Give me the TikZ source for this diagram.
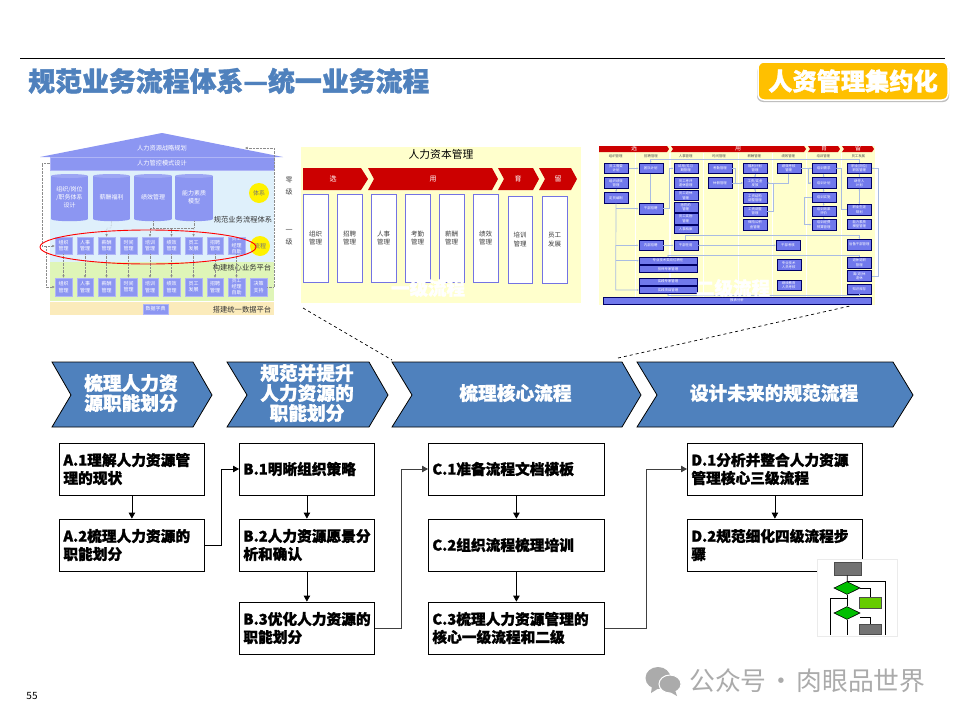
\documentclass[tikz,border=0pt]{standalone}
\usepackage{fontspec}
\setmainfont{Noto Sans CJK SC}[BoldFeatures={FakeBold=1.3}]
\usetikzlibrary{arrows.meta,shapes.geometric,calc}
\definecolor{hdblue}{HTML}{4F81BD}
\definecolor{amber}{HTML}{FFC000}
\definecolor{tbox}{HTML}{8C96F2}
\definecolor{tred}{HTML}{CC0000}
\definecolor{tyel}{HTML}{FFFFCC}
\definecolor{tblue}{HTML}{7078EC}
\definecolor{tline}{HTML}{A9BCE2}
\definecolor{tbg}{HTML}{DFF0FB}
\definecolor{tgr}{HTML}{DFF5B8}
\definecolor{tor}{HTML}{FBEBBB}
\definecolor{wm}{HTML}{ABABAB}
\tikzset{
 fs/.style={font=\fontsize{#1}{#1}\selectfont},
 stepbox/.style={draw=black,line width=.8pt,fill=white,align=left,anchor=west,text width=#1,inner sep=4pt,minimum height=52pt,font=\fontsize{14.7}{18}\selectfont\bfseries},
 flowarrow/.style={line width=.8pt,-{Triangle[length=6pt,width=6.5pt]}},
 chevtext/.style={text=white,align=center,font=\fontsize{18.7}{20}\selectfont\bfseries},
 roofbox/.style={fill=tbox,draw=tbox!70!white,line width=.5pt,text=white,inner sep=0pt,align=center,font=\fontsize{5}{6.2}\selectfont},
 dot/.style={draw=black!45,line width=.4pt,densely dotted},
 dota/.style={dot,-{Latex[length=2.5pt,width=2.5pt]}},
 tlink/.style={draw=tline,line width=.7pt,-{Latex[length=1.8pt,width=1.8pt]}},
 tb3/.style={fill=tblue,draw=black!60!blue,line width=.35pt,text=white,inner sep=0pt,align=center,font=\fontsize{3.4}{4.2}\selectfont},
 whitecap/.style={text=white,font=\fontsize{18.5}{20}\selectfont\bfseries},
}
\newcommand{\rb}[6]{\node[roofbox,minimum width={(#4-#2)*1pt},minimum height={(#5-#3)*1pt}] (#1) at ({(#2+#4)/2},{(#3+#5)/2}) {#6};}
\newcommand{\tb}[6]{\node[tb3,minimum width={(#4-#2)/3*1pt},minimum height={(#5-#3)/3*1pt}] (#1) at ({(#2+#4)/6+595},{(#3+#5)/6+140}) {#6};}
\newcommand{\cyl}[6]{\fill[tbox] (#2,#4) rectangle (#3,#5);
 \fill[tbox] ({(#2+#3)/2},#5) ellipse[x radius={(#3-#2)/2},y radius=2.2];
 \fill[tbox!85!white] ({(#2+#3)/2},#4) ellipse[x radius={(#3-#2)/2},y radius=2];
 \node[text=white,inner sep=0pt,minimum width={(#3-#2)*1pt},minimum height={(#5-#4+4)*1pt},align=center,font=\fontsize{6}{8}\selectfont] (#1) at ({(#2+#3)/2},{(#4+#5)/2}) {#6};}
\newcommand{\tchev}[6]{\fill[#1] (#2,#4) -- ({#3-#6},#4) -- (#3,{(#4+#5)/2}) -- ({#3-#6},#5) -- (#2,#5) -- ({#2+#6},{(#4+#5)/2}) -- cycle;}
\newcommand{\chevshape}[4]{\draw[fill=hdblue,draw=black,line width=.8pt] (#1,362) -- (#3,362) -- (#4,395) -- (#3,427) -- (#1,427) -- (#2,395) -- cycle;}
\begin{document}
\begin{tikzpicture}[x=1pt,y=-1pt]
\useasboundingbox (0,0) rectangle (960,720);
\fill[white] (0,0) rectangle (960,720);
% header
\draw[line width=1pt] (20,58) -- (945,58);
\node[anchor=west,inner sep=0pt,text=hdblue,font=\fontsize{26.9}{30}\selectfont\bfseries] (title) at (28,81) {规范业务流程体系—统一业务流程};
\fill[black!25,rounded corners=6pt] (757,66) rectangle (949,102);
\node[fill=amber,draw=white,line width=1.5pt,rounded corners=6pt,minimum width=190pt,minimum height=38pt,inner sep=0pt,text=white,font=\fontsize{24.2}{28}\selectfont\bfseries] (badge) at (853,81) {人资管理集约化};

% ===== thumbnail 1
\fill[tbg] (50,170) rectangle (274,262);
\fill[tgr] (50,262) rectangle (274,301);
\fill[tor] (50,302) rectangle (274,315);
\fill[tbox] (162,133) -- (283,157) -- (40,157) -- cycle;
\node[text=white,inner sep=0pt,fs=6.2] (roof) at (162,148) {人力资源战略规划};
\rb{bar}{50}{157}{274}{170}{\fontsize{6.2}{7}\selectfont 人力管控模式设计}
\cyl{cy1}{51}{88}{176}{219}{组织/岗位\\/职务体系\\设计}
\cyl{cy2}{93}{130}{176}{219}{薪酬福利}
\cyl{cy3}{134}{172}{176}{219}{绩效管理}
\cyl{cy4}{175}{213}{176}{219}{能力素质\\模型}
\fill[yellow] (259,193) circle (10);
\node[text=black!55,fs=6,inner sep=0pt] (circa) at (259,193) {体系};
\fill[yellow] (260,246) circle (10);
\node[text=black!55,fs=6,inner sep=0pt] (circb) at (260,246) {流程};
\node[fs=7.3,text=black!80,inner sep=0pt] (la) at (243,220) {规范业务流程体系};
\node[fs=7.3,text=black!80,inner sep=0pt] (lb) at (242,268) {构建核心业务平台};
\node[fs=7.3,text=black!80,inner sep=0pt] (lc) at (242,310) {搭建统一数据平台};
\rb{ra}{55}{237}{72}{254}{组织\\管理}
\rb{rb}{77}{237}{93}{254}{人事\\管理}
\rb{rc}{98}{237}{115}{254}{薪酬\\管理}
\rb{rd}{120}{237}{137}{254}{时间\\管理}
\rb{re}{142}{237}{158}{254}{培训\\管理}
\rb{rf}{163}{237}{180}{254}{绩效\\管理}
\rb{rg}{185}{237}{202}{254}{员工\\发展}
\rb{rh}{207}{237}{223}{254}{招聘\\管理}
\rb{ri}{228}{237}{245}{254}{\fontsize{4.6}{5.2}\selectfont 员工\\经理\\自助}
\rb{sa}{55}{278}{72}{296}{组织\\管理}
\rb{sb}{77}{278}{93}{296}{人事\\管理}
\rb{sc}{98}{278}{115}{296}{薪酬\\管理}
\rb{sd}{120}{278}{137}{296}{时间\\管理}
\rb{se}{142}{278}{158}{296}{培训\\管理}
\rb{sf}{163}{278}{180}{296}{绩效\\管理}
\rb{sg}{185}{278}{202}{296}{员工\\发展}
\rb{sh}{207}{278}{223}{296}{招聘\\管理}
\rb{si}{228}{278}{245}{296}{\fontsize{4.6}{5.2}\selectfont 员工\\经理\\自助}
\rb{sj}{250}{278}{267}{296}{决策\\支持}
\rb{dict}{143}{304}{168}{314}{数据字典}
\foreach \k in {a,b,c,d,e,f,g,h,i}{\draw[dota] (r\k) -- (s\k);}
\coordinate (ba) at (42,163); \coordinate (bb) at (42,246); \coordinate (bc) at (46,246); \coordinate (bd) at (46,287);
\draw[dota] (bar.west |- ba) -- (ba) -- (bb) -- (ra.west |- bb);
\draw[dota] (bc) -- (bd) -- (sa.west |- bd);
\coordinate (ta) at (274,287); \coordinate (tb) at (274,148); \coordinate (tc) at (245,148);
\draw[dota] (sj.east |- ta) -- (ta) -- (tb) -- (tc);
\coordinate (ma) at (111,228); \coordinate (mb) at (107,228);
\draw[dot] (cy2.south) -- (ma) -- (mb);
\draw[dota] (mb) -- (rc.north);
\coordinate (na) at (150,228); \coordinate (nb) at (194,228);
\draw[dot] (cy3.south) -- (cy3.south |- na);
\draw[dot] (cy4.south) -- (nb);
\draw[dot] (na) -- (nb);
\draw[dota] (na) -- (re.north);
\draw[dota] (rf.north |- na) -- (rf.north);
\draw[dota] (nb) -- (rg.north);
\draw[red,line width=.9pt] (148,247) ellipse[x radius=108,y radius=17];

% ===== thumbnail 2
\fill[tyel] (301,147) rectangle (581,303);
\node[fs=10.8,inner sep=0pt] (ttitle) at (441,154) {人力资本管理};
\fill[tred] (303,168) -- (361,168) -- (368,179) -- (361,190) -- (303,190) -- cycle;
\tchev{tred}{368}{498}{168}{190}{6}
\tchev{tred}{498}{539}{168}{190}{6}
\tchev{tred}{539}{577}{168}{190}{6}
\node[text=white,fs=7,inner sep=0pt] (tta) at (333,179) {选};
\node[text=white,fs=7,inner sep=0pt] (ttb) at (433,179) {用};
\node[text=white,fs=7,inner sep=0pt] (ttc) at (518,179) {育};
\node[text=white,fs=7,inner sep=0pt] (ttd) at (558,179) {留};
\foreach \n/\a/\b/\yy/\zz/\t/\u in {pa/303/328/194/282/组织/管理,pb/337/362/194/282/招聘/管理,pc/371/396/194/282/人事/管理,pd/405/430/194/282/考勤/管理,pe/439/464/194/282/薪酬/管理,pf/473/498/194/282/绩效/管理,pg/508/532/196/283/培训/管理,ph/542/567/196/283/员工/发展}{
 \node[draw=black!20!blue!55!white,line width=.8pt,fill=white,minimum width={(\b-\a)*1pt},minimum height={(\zz-\yy)*1pt},inner sep=0pt,align=center,font=\fontsize{6.5}{8.5}\selectfont,text=black!75] (\n) at ({(\a+\b)/2},{(\yy+\zz)/2}) {\t\\\u};}
\node[font=\fontsize{7}{12}\selectfont,text=black!70,inner sep=0pt,align=center] (za) at (289,186) {零\\级};
\node[font=\fontsize{7}{12}\selectfont,text=black!70,inner sep=0pt,align=center] (zb) at (289,237) {一\\级};
\node[whitecap,inner sep=0pt] (capa) at (428,288) {一级流程};

% ===== thumbnail 3
\fill[tyel] (599,146) rectangle (875,305);
\foreach \xa/\xb in {119/121,223/227,323/324,429/431,531/532,633/637,739/741}{\fill[white] ({\xa/3+595},153) rectangle ({\xb/3+595},303);}
\fill[tred] (599,146) -- (667,146) -- (669,149) -- (667,152) -- (599,152) -- cycle;
\tchev{tred}{671}{806}{146}{152}{2}
\tchev{tred}{808}{840}{146}{152}{2}
\tchev{tred}{842}{874}{146}{152}{2}
\node[text=white,fs=6,inner sep=0pt] (ua) at (634,148.5) {选};
\node[text=white,fs=6,inner sep=0pt] (ub) at (738,148.5) {用};
\node[text=white,fs=6,inner sep=0pt] (uc) at (824,148.5) {育};
\node[text=white,fs=6,inner sep=0pt] (ud) at (858,148.5) {留};
\foreach \xx/\t in {62/组织管理,168/招聘管理,272/人事管理,372/时间管理,478/薪酬管理,580/绩效管理,685/培训管理,790/员工发展}{
 \node[fs=3.4,text=black!70,inner sep=0pt] (col\xx) at ({\xx/3+595},156) {\t};}
\tb{a1}{26}{70}{100}{100}{员工需要\\计划}
\tb{a2}{26}{112}{100}{145}{组织绩效\\管理}
\tb{a3}{26}{157}{100}{190}{定员编制}
\tb{b1}{131}{70}{203}{100}{团队计划}
\tb{b2}{131}{190}{203}{222}{干部招聘}
\tb{b3}{131}{300}{203}{332}{内部招聘}
\tb{b4}{132}{352}{306}{372}{专业技术类岗位聘任}
\tb{b5}{132}{377}{306}{398}{技师专家管理}
\tb{b6}{132}{415}{306}{435}{实践专家管理}
\tb{b7}{132}{440}{306}{460}{实践项目管理}
\tb{c1}{236}{70}{308}{100}{试用/见习\\期管理}
\tb{c2}{236}{113}{308}{145}{员工考评\\退休管理}
\tb{c3}{236}{152}{308}{182}{员工退休\\管理}
\tb{c4}{236}{187}{308}{217}{惩罚的\\管理}
\tb{c5}{236}{220}{308}{252}{员工奖励\\管理}
\tb{c6}{236}{257}{308}{280}{人事档案}
\tb{c7}{236}{300}{308}{332}{干部任用}
\tb{d1}{339}{70}{411}{100}{考勤管理}
\tb{d2}{339}{113}{411}{145}{休假管理}
\tb{e1}{444}{70}{516}{100}{福利计划\\管理}
\tb{e2}{444}{113}{516}{145}{工资/奖金\\发放}
\tb{e3}{444}{158}{516}{190}{工资结构\\调整管理}
\tb{e4}{444}{198}{516}{230}{工资调整\\管理}
\tb{e5}{444}{238}{516}{270}{保险公积\\金管理}
\tb{f1}{545}{70}{617}{100}{绩效考核\\管理}
\tb{f2}{543}{300}{615}{332}{干部考核}
\tb{f3}{545}{358}{617}{392}{专业技术\\人员考核}
\tb{f4}{545}{420}{617}{452}{继续教育\\人员考核}
\tb{g1}{650}{70}{722}{100}{培训需求}
\tb{g2}{650}{113}{722}{145}{培训计划}
\tb{g3}{650}{157}{722}{187}{培训实施}
\tb{g4}{650}{198}{722}{230}{培训效果\\评价}
\tb{g5}{650}{238}{722}{270}{培训经费\\预算管理}
\tb{h1}{757}{70}{829}{100}{职业(岗位)\\职务管理}
\tb{h2}{757}{113}{829}{145}{继任人\\计划}
\tb{h3}{757}{193}{829}{225}{职业生涯\\规划}
\tb{h4}{757}{238}{829}{268}{能力素质\\模型管理}
\tb{h5}{757}{298}{829}{330}{后备干部管理}
\tb{h6}{757}{352}{829}{384}{退休退职\\管理}
\tb{h7}{757}{392}{829}{425}{离(退)休\\退休}
\tb{h8}{757}{432}{829}{462}{知识库存}
\tb{rep}{24}{472}{828}{492}{报表分析}
\coordinate (vb) at ({62/3+595},{450/3+140});
\draw[tlink] (a1) -- (b1);
\draw[tlink] (a2) -- (a3);
\draw[tlink] (b1) -- (b2);
\draw[tlink] (a3.south) -- (vb) -- (b7.west |- vb);
\draw[tlink] (a3.south |- b2) -- (b2.west);
\draw[tlink] (a3.south |- b3) -- (b3.west);
\draw[tlink] (a3.south |- b4) -- (b4.west);
\draw[tlink] (b2.east) -- ++(6,0) |- (c1.west);
\draw[tlink] (b3) -- (c7);
\draw[tlink,{Latex[length=1.8pt,width=1.8pt]}-{Latex[length=1.8pt,width=1.8pt]}] (c7) -- (f2);
\draw[tlink] (c7.north) -- ++(0,-4) -| (h5.north);
\draw[tlink] (d2) -- (e2);
\draw[tlink] (d1.east) -- ++(3,0) |- (e2.west);
\draw[tlink] (e1) -- (e2);
\draw[tlink] (e3) -- (e2);
\draw[tlink] (f1.south) |- (e2.east);
\draw[tlink] (e4.east) -- ++(6,0) |- (e2.east);
\draw[tlink] (f1) -- (g1);
\draw[tlink] (g1) -- (g2);
\draw[tlink] (g2) -- (g3);
\draw[tlink] (g3) -- (g4);
\draw[tlink] (g5) -- (g4);
\draw[tlink] (g1.west) -- ++(-3,0) |- (g2.west);
\draw[tlink] (g3.west) -- ++(-7,0) |- (g5.west);
\draw[tlink] (h1.north) -- ++(0,-3.5) -| (b1.north);
\draw[tlink] (h2) -- (h1);
\draw[tlink] (h3) -- (h2);
\draw[tlink] (h2) -- (h3);
\draw[tlink] (h3.west) -- ++(-5.5,0) |- (g1.east);
\draw[tlink] (h6.north) -- ++(0,-2.3) -| (b4.north);
\draw[tlink] (h7.east) -- ++(7,0) |- (h1.east);
\draw[tlink] (h8.south) -- ++(0,1) -| (b7.south);
\node[whitecap,inner sep=0pt] (capb) at (733,288) {二级流程};

% dashed guides
\coordinate (gaa) at (303,308); \coordinate (gab) at (392,360);
\coordinate (gba) at (618,358); \coordinate (gbb) at (850,306);
\draw[dashed,line width=.7pt] (gaa) -- (gab);
\draw[dashed,line width=.7pt] (gba) -- (gbb);

% chevrons
\chevshape{52}{71}{193}{212}
\chevshape{227}{247}{369}{388}
\chevshape{392}{412}{622}{641}
\chevshape{637}{657}{893}{913}
\node[chevtext,inner sep=0pt] (hta) at (131,393) {梳理人力资\\源职能划分};
\node[chevtext,inner sep=0pt] (htb) at (307,393) {规范并提升\\人力资源的\\职能划分};
\node[chevtext,inner sep=0pt] (htc) at (515.5,393) {梳理核心流程};
\node[chevtext,inner sep=0pt] (htd) at (774,393) {设计未来的规范流程};

% step boxes
\node[stepbox=137pt] (A1) at (59,469) {A.1理解人力资源管\\理的现状};
\node[stepbox=137pt] (A2) at (59,545) {A.2梳理人力资源的\\职能划分};
\node[stepbox=127pt] (B1) at (239,469) {B.1明晰组织策略};
\node[stepbox=127pt] (B2) at (239,545) {B.2人力资源愿景分\\析和确认};
\node[stepbox=127pt] (B3) at (239,628) {B.3优化人力资源的\\职能划分};
\node[stepbox=168pt] (C1) at (428,469) {C.1准备流程文档模板};
\node[stepbox=168pt] (C2) at (428,545) {C.2组织流程梳理培训};
\node[stepbox=168pt] (C3) at (428,628) {C.3梳理人力资源管理的\\核心一级流程和二级};
\node[stepbox=167pt] (D1) at (687,469) {D.1分析并整合人力资源\\管理核心三级流程};
\node[stepbox=167pt] (D2) at (687,545) {D.2规范细化四级流程步\\骤};
\draw[flowarrow] (A1) -- (A2);
\draw[flowarrow] (B1) -- (B2);
\draw[flowarrow] (B2) -- (B3);
\draw[flowarrow] (C1) -- (C2);
\draw[flowarrow] (C2) -- (C3);
\draw[flowarrow] (D1) -- (D2);
\coordinate (ja) at (221,545); \coordinate (jb) at (401,628); \coordinate (jc) at (646,628);
\draw[flowarrow] (A2.east) -- (ja) |- (B1.west);
\draw[flowarrow,draw=black!75] (B3.east) -- (jb) |- (C1.west);
\draw[flowarrow,draw=black!75] (C3.east) -- (jc) |- (D1.west);

% flowchart picture
\fill[white] (817,559) rectangle (897,636);
\draw[black!8,line width=.5pt] (817,559) rectangle (897,636);
\coordinate (fp) at (885,581); \coordinate (fq) at (885,635); \coordinate (fr) at (847,581);
\coordinate (fs) at (830,598); \coordinate (ft) at (830,635); \coordinate (fu) at (847,635); \coordinate (fv) at (847,598);
\coordinate (fw) at (860,617); \coordinate (fx) at (870,617);
\node[fill=black!55,draw=black!70,line width=.7pt,minimum width=27pt,minimum height=13pt,inner sep=0pt] (fa) at (847.5,568.5) {};
\node[diamond,aspect=2,fill=green!75!black,draw=black,line width=.6pt,minimum width=26pt,minimum height=13pt,inner sep=0pt] (fb) at (847,588) {};
\node[fill=green!50!yellow!80!black,draw=black!70,line width=.6pt,minimum width=22pt,minimum height=11pt,inner sep=0pt] (fc) at (870,602.5) {};
\node[diamond,aspect=2,fill=green!75!black,draw=black,line width=.6pt,minimum width=26pt,minimum height=13pt,inner sep=0pt] (fd) at (847,613) {};
\node[fill=black!55,draw=black!70,line width=.7pt,minimum width=22pt,minimum height=10pt,inner sep=0pt] (fe) at (870,629) {};
\draw[line width=.7pt] (fa) -- (fb);
\draw[line width=.7pt] (fb) -- (fd);
\draw[line width=.7pt] (fb.east) -| (fc.north);
\draw[line width=.7pt] (fw) -- (fx) -- (fe.north);
\draw[line width=.7pt] (fr) -- (fp) -- (fq);
\draw[line width=.7pt] (fv) -- (fs) -- (ft);
\draw[line width=.7pt] (fd) -- (fu);

% footer
\node[fs=10,inner sep=0pt] (page) at (32,696) {55};
\fill[wm] (658,678) ellipse[x radius=12.5,y radius=11];
\fill[wm] (652,686) -- (651,693) -- (659,688) -- cycle;
\fill[wm,draw=white,line width=1pt] (670,684) ellipse[x radius=11,y radius=9];
\fill[wm] (675,690) -- (677,696) -- (670,692) -- cycle;
\node[text=wm,anchor=west,inner sep=0pt,font=\fontsize{25.8}{30}\selectfont] (wmt) at (689,681) {公众号\hspace{2pt}·\hspace{2pt}肉眼品世界};
\end{tikzpicture}
\end{document}
